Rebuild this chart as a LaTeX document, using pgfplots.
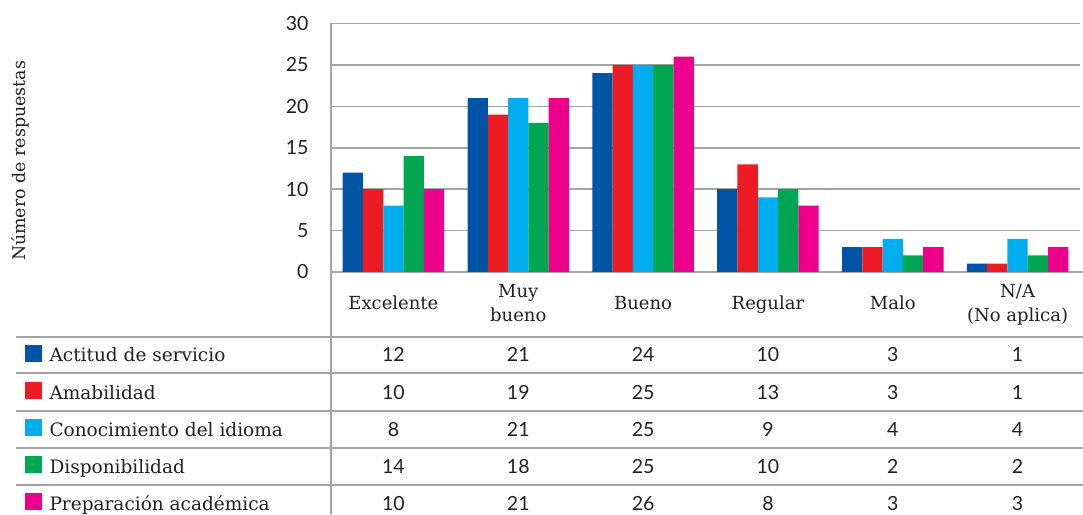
\documentclass[border=0pt]{standalone}
\usepackage{fontspec}
\setmainfont{Lato}
\newfontfamily\slab{DejaVu Serif}
\usepackage{pgfplots}
\pgfplotsset{compat=1.18}
\definecolor{cA}{RGB}{0,84,166}
\definecolor{cB}{RGB}{237,28,36}
\definecolor{cC}{RGB}{0,174,239}
\definecolor{cD}{RGB}{0,166,81}
\definecolor{cE}{RGB}{236,0,140}
\definecolor{gridc}{RGB}{165,165,165}
\definecolor{txt}{RGB}{35,31,32}
\begin{document}
\begin{tikzpicture}[x=1pt,y=1pt]
\useasboundingbox (0,0) rectangle (1083,514);
\begin{axis}[at={(331pt,242pt)}, anchor=south west, scale only axis,
  width=749pt, height=248.5pt,
  xmin=-0.5, xmax=5.5, ymin=0, ymax=30, ytick={0,5,...,30}, xtick=\empty,
  axis line style={draw=none}, ymajorgrids, grid style={gridc, line width=1.6pt},
  major tick length=0pt,
  ybar=0pt, bar width=20.3pt,
  yticklabel style={font=\fontsize{19.5}{19.5}\selectfont, xshift=-19pt, text=txt},
  /pgf/number format/assume math mode=true,
  clip=false]
\addplot[fill=cA, draw=none] coordinates {(0,12) (1,21) (2,24) (3,10) (4,3) (5,1)};
\addplot[fill=cB, draw=none] coordinates {(0,10) (1,19) (2,25) (3,13) (4,3) (5,1)};
\addplot[fill=cC, draw=none] coordinates {(0,8) (1,21) (2,25) (3,9) (4,4) (5,4)};
\addplot[fill=cD, draw=none] coordinates {(0,14) (1,18) (2,25) (3,10) (4,2) (5,2)};
\addplot[fill=cE, draw=none] coordinates {(0,10) (1,21) (2,26) (3,8) (4,3) (5,3)};
\end{axis}
% frame lines
\draw[gridc, line width=1.6pt] (331,490.5) -- (331,0);
\foreach \yy in {177,141,103,66,29} \draw[gridc, line width=1.6pt] (16,\yy) -- (1083,\yy);
\draw[gridc, line width=1.6pt] (1080,242) -- (1083,242);
% y label
\node[rotate=90, font=\slab\fontsize{17.4}{17.4}\selectfont, text=txt] at (20,353) {Número de respuestas};
% category labels
\begin{scope}[every node/.style={font=\slab\fontsize{18}{18}\selectfont, text=txt, anchor=base}]
\node at (393.4,204) {Excelente};
\node at (518.3,216) {Muy};
\node at (518.3,192) {bueno};
\node at (643.1,204) {Bueno};
\node at (767.9,204) {Regular};
\node at (892.8,204) {Malo};
\node at (1017.6,216) {N/A};
\node at (1017.6,192) {(No aplica)};
\end{scope}
% legend rows
\begin{scope}[every node/.style={font=\slab\fontsize{18.5}{18.5}\selectfont, text=txt, anchor=base west}]
\fill[cA] (25,152) rectangle (42,169);
\node at (46,152) {Actitud de servicio};
\fill[cB] (25,115) rectangle (42,132);
\node at (46,115) {Amabilidad};
\fill[cC] (25,78) rectangle (42,95);
\node at (46,78) {Conocimiento del idioma};
\fill[cD] (25,41) rectangle (42,58);
\node at (46,41) {Disponibilidad};
\fill[cE] (25,4) rectangle (42,21);
\node at (46,4) {Preparación académica};
\end{scope}
% table values
\begin{scope}[every node/.style={font=\fontsize{19.5}{19.5}\selectfont, text=txt, anchor=base}]
\foreach \a/\b/\c/\d/\e/\f [count=\r from 0] in {12/21/24/10/3/1, 10/19/25/13/3/1, 8/21/25/9/4/4, 14/18/25/10/2/2, 10/21/26/8/3/3}{
  \pgfmathsetmacro{\yb}{152-37*\r}
  \node at (393.4,\yb) {\a};
  \node at (518.3,\yb) {\b};
  \node at (643.1,\yb) {\c};
  \node at (767.9,\yb) {\d};
  \node at (892.8,\yb) {\e};
  \node at (1017.6,\yb) {\f};
}
\end{scope}
\end{tikzpicture}
\end{document}
